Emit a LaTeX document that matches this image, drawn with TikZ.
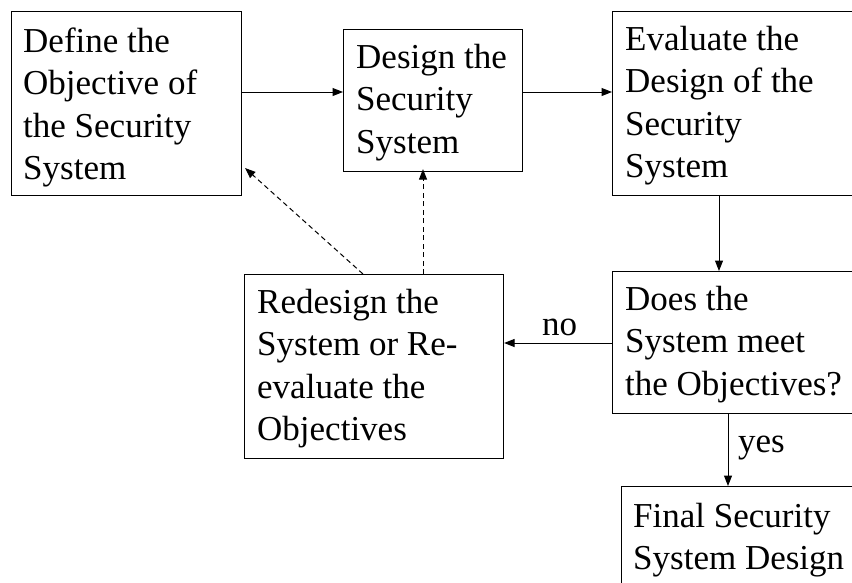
\documentclass[tikz,border=0pt]{standalone}
\usepackage{fontspec}
\setmainfont{Liberation Serif}
\usetikzlibrary{arrows.meta}
\begin{document}
\begin{tikzpicture}[x=1pt,y=-1pt,
  boxshape/.style={draw,line width=1.1pt,rectangle,inner sep=0pt,anchor=north west},
  boxtext/.style={anchor=base west,inner sep=0pt,align=flush left,text width=320pt,
     font=\fontsize{35}{42.5}\selectfont},
  lbl/.style={anchor=base west,inner sep=0pt,font=\fontsize{35}{42.5}\selectfont},
  flow/.style={line width=1pt,-{Triangle[length=10.5pt,width=8pt]}},
  back/.style={flow,dashed,dash pattern=on 5pt off 3.5pt}]
\clip (0,0) rectangle (852,582);
\fill[white] (0,0) rectangle (852,582);
% boxes
\node[boxshape,minimum width=230pt,minimum height=184pt] (b1) at (11,11) {};
\node[boxshape,minimum width=179pt,minimum height=142pt] (b2) at (343,29) {};
\node[boxshape,minimum width=260pt,minimum height=184pt] (b3) at (612,11) {};
\node[boxshape,minimum width=260pt,minimum height=142pt] (b4) at (612,271) {};
\node[boxshape,minimum width=259pt,minimum height=184pt] (b5) at (244,274) {};
\node[boxshape,minimum width=260pt,minimum height=120pt] (b6) at (621,486) {};
% texts
\node[boxtext] (t1) at (23,52) {Define the\\Objective of\\the Security\\System};
\node[boxtext] (t2) at (356,68) {Design the\\Security\\System};
\node[boxtext] (t3) at (625,50) {Evaluate the\\Design of the\\Security\\System};
\node[boxtext] (t4) at (625,310) {Does the\\System meet\\the Objectives?};
\node[boxtext] (t5) at (257,313) {Redesign the\\System or Re-\\evaluate the\\Objectives};
\node[boxtext] (t6) at (633,527) {Final Security\\System Design};
% labels
\node[lbl] (no) at (542,335) {no};
\node[lbl] (yes) at (738,452) {yes};
% connector helper coordinates
\coordinate (y1) at (0,92);
\coordinate (x34) at (719,0);
\coordinate (y45) at (0,343);
\coordinate (x46) at (728,0);
\coordinate (x52) at (423,0);
\coordinate (d1s) at (363,274);
\coordinate (d1e) at (245,168);
% connectors
\draw[flow] (b1.east |- y1) -- (b2.west |- y1);
\draw[flow] (b2.east |- y1) -- (b3.west |- y1);
\draw[flow] (b3.south -| x34) -- (b4.north -| x34);
\draw[flow] (b4.west |- y45) -- (b5.east |- y45);
\draw[flow] (b4.south -| x46) -- (b6.north -| x46);
\draw[back] (d1s) -- (d1e);
\draw[back] (b5.north -| x52) -- ([yshift=3pt]b2.south -| x52);
\end{tikzpicture}
\end{document}
